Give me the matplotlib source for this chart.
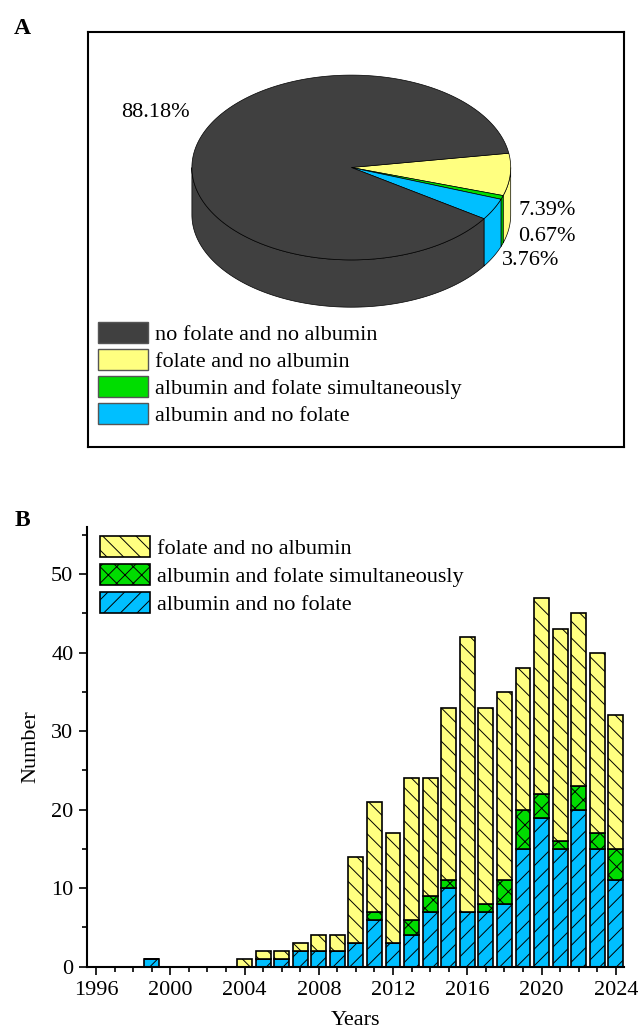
import numpy as np
import matplotlib
matplotlib.use("Agg")
import matplotlib.pyplot as plt
from matplotlib.patches import Polygon, Patch

plt.rcParams['font.family'] = ['Liberation Serif', 'DejaVu Serif']
plt.rcParams['hatch.linewidth'] = 0.7

# ---------------- data ----------------
pie_labels = ["no folate and no albumin", "folate and no albumin",
              "albumin and folate simultaneously", "albumin and no folate"]
pie_values = [88.18, 7.39, 0.67, 3.76]
pie_text = ["88.18%", "7.39%", "0.67%", "3.76%"]

years = list(range(1996, 2025))
albumin_no_folate = [0, 0, 0, 1, 0, 0, 0, 0, 0, 1, 1, 2, 2, 2, 3, 6, 3, 4, 7, 10,
                     7, 7, 8, 15, 19, 15, 20, 15, 11]
albumin_and_folate = [0, 0, 0, 0, 0, 0, 0, 0, 0, 0, 0, 0, 0, 0, 0, 1, 0, 2, 2, 1,
                      0, 1, 3, 5, 3, 1, 3, 2, 4]
folate_no_albumin = [0, 0, 0, 0, 0, 0, 0, 0, 1, 1, 1, 1, 2, 2, 11, 14, 14, 18, 15, 22,
                     35, 25, 24, 18, 25, 27, 22, 23, 17]

c_dark = '#404040'
c_yellow = '#ffff80'
c_green = '#00dd00'
c_blue = '#00bfff'
pie_colors = [c_dark, c_yellow, c_green, c_blue]

fig = plt.figure(figsize=(6.38, 10.36), dpi=100)

# ---------------- Panel A: 3D pie ----------------
W, H = 536, 415
axA = fig.add_axes([88/638, 1-447/1036, W/638, H/1036])
axA.set_xlim(0, W)
axA.set_ylim(0, H)
axA.set_xticks([])
axA.set_yticks([])
for s in axA.spines.values():
    s.set_linewidth(1.5)

cx, cy, rx, ry, depth = 263.3, 279.5, 159.4, 92.4, 47.3
start = np.deg2rad(8.9)

# pie order drawn clockwise: yellow, green, blue, dark
order = [1, 2, 3, 0]
fr = np.array([pie_values[i] for i in order]) / sum(pie_values)
cum = np.concatenate([[0], np.cumsum(fr)])

def arc(a, b, n=120):
    t = np.linspace(a, b, n)
    return cx + rx*np.cos(t), cy + ry*np.sin(t)

for k, i in enumerate(order):
    t1 = start - 2*np.pi*cum[k]
    t2 = start - 2*np.pi*cum[k+1]
    # side walls (front half: angle in [-pi, 0])
    for lo, hi in [(-np.pi, 0.0), (-3*np.pi, -2*np.pi)]:
        a, b = max(t2, lo), min(t1, hi)
        if b > a:
            x, y = arc(a, b)
            pts = np.column_stack([np.concatenate([x, x[::-1]]),
                                   np.concatenate([y, (y - depth)[::-1]])])
            axA.add_patch(Polygon(pts, closed=True, facecolor=pie_colors[i],
                                  edgecolor='black', lw=0.5, zorder=1))
for k, i in enumerate(order):
    t1 = start - 2*np.pi*cum[k]
    t2 = start - 2*np.pi*cum[k+1]
    x, y = arc(t1, t2, 300)
    pts = np.column_stack([np.concatenate([[cx], x]), np.concatenate([[cy], y])])
    axA.add_patch(Polygon(pts, closed=True, facecolor=pie_colors[i],
                          edgecolor='black', lw=0.5, zorder=2))

axA.text(67, 335, pie_text[0], fontsize=16, ha='center', va='center')
axA.text(430, 237, pie_text[1], fontsize=16, ha='left', va='center')
axA.text(430, 211, pie_text[2], fontsize=16, ha='left', va='center')
axA.text(414, 187, pie_text[3], fontsize=16, ha='left', va='center')

handles = [Patch(facecolor=c, edgecolor='#555555', lw=1) for c in pie_colors]
axA.legend(handles, pie_labels, loc='lower left', bbox_to_anchor=(10.3/W, 21/H),
           frameon=False, fontsize=16, borderpad=0, borderaxespad=0,
           handlelength=2.25, handleheight=1.1, labelspacing=0.17, handletextpad=0.3)

fig.text(22/638, 1-28/1036, 'A', fontsize=17, fontweight='bold', ha='center', va='center')
fig.text(22/638, 1-521/1036, 'B', fontsize=17, fontweight='bold', ha='center', va='center')

# ---------------- Panel B: stacked bars ----------------
axB = fig.add_axes([87.3/638, 1-966.7/1036, (624.3-87.3)/638, (966.7-527)/1036])
bw = 0.8
blue = np.array(albumin_no_folate)
green = np.array(albumin_and_folate)
yellow = np.array(folate_no_albumin)
b1 = axB.bar(years, blue, bw, color=c_blue, edgecolor='black', lw=1.2, hatch='//',
             label='albumin and no folate')
b2 = axB.bar(years, green, bw, bottom=blue, color=c_green, edgecolor='black', lw=1.2,
             hatch='xx', label='albumin and folate simultaneously')
b3 = axB.bar(years, yellow, bw, bottom=blue+green, color=c_yellow, edgecolor='black',
             lw=1.2, hatch='\\\\', label='folate and no albumin')

axB.set_xlim(1995.53, 2024.46)
axB.set_ylim(0, 56)
axB.set_xticks(range(1996, 2025, 4))
axB.set_xticks(range(1996, 2025), minor=True)
axB.set_yticks(range(0, 51, 10))
axB.set_yticks(range(5, 56, 10), minor=True)
axB.spines['top'].set_visible(False)
axB.spines['right'].set_visible(False)
for s in ['left', 'bottom']:
    axB.spines[s].set_linewidth(1.5)
axB.tick_params(which='major', direction='out', length=6, width=1.2, labelsize=16, pad=4)
axB.tick_params(which='minor', direction='out', length=3.5, width=1.2)
axB.set_xlabel('Years', fontsize=16, labelpad=8)
axB.set_ylabel('Number', fontsize=16, labelpad=8)

axB.legend([b3, b2, b1], ['folate and no albumin', 'albumin and folate simultaneously',
                          'albumin and no folate'],
           loc='upper left', bbox_to_anchor=((100-87.3)/537, 0.98), frameon=False,
           fontsize=16, borderpad=0, borderaxespad=0, handlelength=2.25,
           handleheight=1.1, labelspacing=0.22, handletextpad=0.3)

fig.savefig('out.png', dpi=100)
